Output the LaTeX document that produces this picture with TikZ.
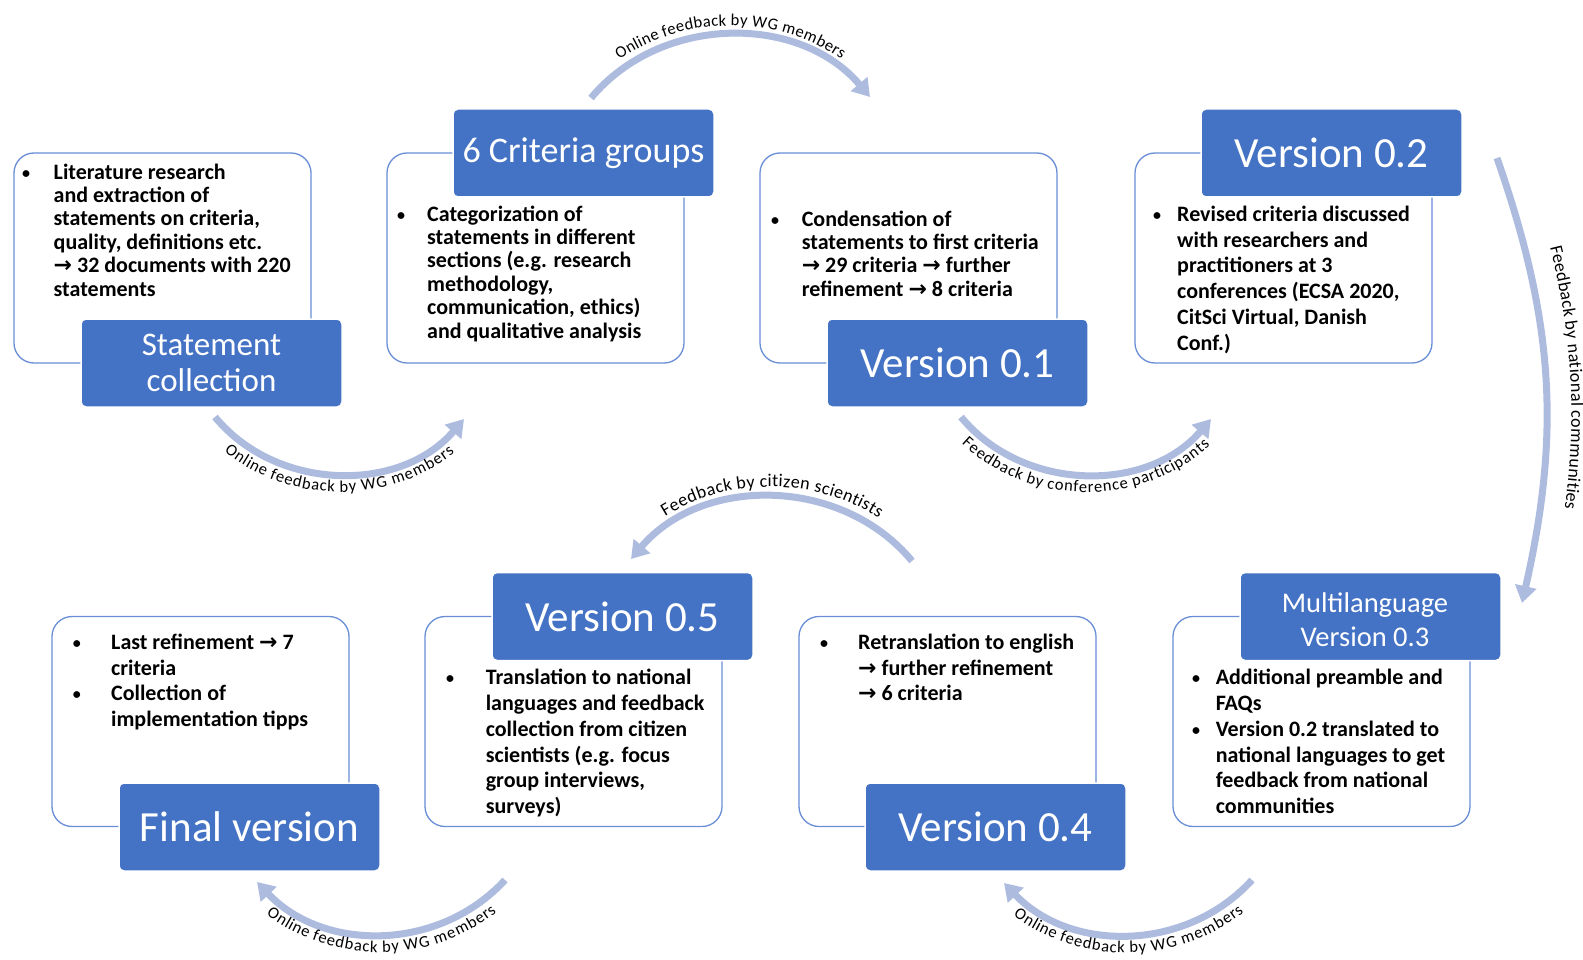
\documentclass[tikz,border=0pt]{standalone}
\usepackage{fontspec}
\setmainfont{Carlito}
\newfontfamily\arrowfont{DejaVu Sans}
\usetikzlibrary{arrows.meta,decorations.text}
\definecolor{wgblue}{RGB}{68,114,196}
\definecolor{wgline}{RGB}{105,142,214}
\definecolor{wgarc}{RGB}{172,187,222}
\newcommand{\rarr}{{\arrowfont\bfseries →}}
\newcommand{\bul}{\raisebox{1pt}{\fontsize{16}{16}\selectfont\textbullet}}
\newcommand{\blist}[2]{\begin{tabular}{@{}p{#1pt}@{}l@{}}#2\end{tabular}}
\newcommand{\lblfont}{\fontsize{16.5}{16.5}\selectfont}
\newcommand{\biglblfont}{\fontsize{18}{18}\selectfont}

\begin{document}
\begin{tikzpicture}[x=1pt,y=-1pt,
  textbox/.style={draw=wgline,line width=1.3pt,fill=white,rounded corners=20pt,minimum width=297pt,minimum height=210pt},
  stage/.style={draw=white,line width=1.5pt,fill=wgblue,rounded corners=5pt,minimum width=261pt,minimum height=88pt,text=white,align=center,inner sep=0pt},
  body/.style={anchor=north west,inner sep=0pt,font=\bfseries\fontsize{22}{23.4}\selectfont},
  bodyw/.style={body,font=\bfseries\fontsize{22}{25.8}\selectfont},
  fb/.style={wgarc,line width=7pt,-{Triangle[length=17pt,width=21pt]}},
  arclbl/.style={decorate,decoration={text along path,text align=center,raise=#1}}
]
  \useasboundingbox (0,0) rectangle (1583,960);

  % Statement collection
  \node[textbox] (t1) at (162.5,258) {};
  \node[stage,font=\fontsize{33}{36}\selectfont] (s1) at (211.5,363) {Statement\\collection};
  \node[body] (b1) at (22,162.5) {\blist{31.5}{\bul & Literature research\\
    & and extraction of\\ & statements on criteria,\\ & quality, definitions etc.\\
    & \rarr{} 32 documents with 220\\ & statements}};

  % 6 Criteria groups
  \node[textbox] (t2) at (535.5,258) {};
  \node[stage,font=\fontsize{36}{40}\selectfont] (s2) at (583.5,153) {6 Criteria groups};
  \node[body] (b2) at (397,204.6) {\blist{30}{\bul & Categorization of\\
    & statements in different\\ & sections (e.g. research\\ & methodology,\\
    & communication, ethics)\\ & and qualitative analysis}};

  % Version 0.1
  \node[textbox] (t3) at (908.5,258) {};
  \node[stage,font=\fontsize{43}{46}\selectfont] (s3) at (957.5,363) {Version 0.1};
  \node[body] (b3) at (771,209.6) {\blist{30.6}{\bul & Condensation of\\
    & statements to first criteria\\ & \rarr{} 29 criteria \rarr{} further\\
    & refinement \rarr{} 8 criteria}};

  % Version 0.2
  \node[textbox] (t4) at (1283.5,258) {};
  \node[stage,font=\fontsize{43}{46}\selectfont] (s4) at (1331.5,153) {Version 0.2};
  \node[bodyw] (b4) at (1153,203) {\blist{24}{\bul & Revised criteria discussed\\
    & with researchers and\\ & practitioners at 3\\ & conferences (ECSA 2020,\\
    & CitSci Virtual, Danish\\ & Conf.)}};

  % Final version
  \node[textbox] (t5) at (200.5,721.5) {};
  \node[stage,font=\fontsize{43}{46}\selectfont] (s5) at (249.5,827) {Final version};
  \node[bodyw] (b5) at (72.7,631) {\blist{38.3}{\bul & Last refinement \rarr{} 7\\
    & criteria\\ \bul & Collection of\\ & implementation tipps}};

  % Version 0.5
  \node[textbox] (t6) at (573.5,721.5) {};
  \node[stage,font=\fontsize{43}{46}\selectfont] (s6) at (622.5,616.5) {Version 0.5};
  \node[bodyw] (b6) at (446,666.5) {\blist{39.6}{\bul & Translation to national\\
    & languages and feedback\\ & collection from citizen\\ & scientists (e.g. focus\\
    & group interviews,\\ & surveys)}};

  % Version 0.4
  \node[textbox] (t7) at (947.5,721.5) {};
  \node[stage,font=\fontsize{43}{46}\selectfont] (s7) at (995.5,827) {Version 0.4};
  \node[bodyw] (b7) at (820,631) {\blist{38}{\bul & Retranslation to english\\
    & \rarr{} further refinement\\ & \rarr{} 6 criteria}};

  % Multilanguage Version 0.3
  \node[textbox] (t8) at (1321.5,721.5) {};
  \node[stage,font=\fontsize{28.5}{34}\selectfont] (s8) at (1370.5,616.5) {};
  \node[text=white,font=\fontsize{28.5}{34}\selectfont,align=center] (s8t) at (1365,620) {Multilanguage\\Version 0.3};
  \node[bodyw] (b8) at (1192,666.5) {\blist{23.6}{\bul & Additional preamble and\\
    & FAQs\\ \bul & Version 0.2 translated to\\ & national languages to get\\
    & feedback from national\\ & communities}};

  % Feedback arcs
  \coordinate (a1s) at (591,98);   \coordinate (a1e) at (870,97);
  \coordinate (a2s) at (215,417);  \coordinate (a2e) at (464,419);
  \coordinate (a3s) at (961,417);  \coordinate (a3e) at (1211,419);
  \coordinate (a4s) at (1497,158); \coordinate (a4e) at (1522,603);
  \coordinate (a5s) at (912,561);  \coordinate (a5e) at (631,559);
  \coordinate (a6s) at (505,880);  \coordinate (a6e) at (257,882);
  \coordinate (a7s) at (1252,880); \coordinate (a7e) at (1004,883);

  \draw[fb] (a1s) to[bend left=50] (a1e);
  \draw[fb] (a2s) to[bend right=50] (a2e);
  \draw[fb] (a3s) to[bend right=50] (a3e);
  \draw[fb] (a4s) to[bend left=16] (a4e);
  \draw[fb] (a5s) to[bend right=50] (a5e);
  \draw[fb] (a6s) to[bend left=47] (a6e);
  \draw[fb] (a7s) to[bend left=47] (a7e);

  % Arc labels
  \path[arclbl=9pt,decoration={text={|\lblfont|Online feedback by WG members}}] (a1s) to[bend left=50] (a1e);
  \path[arclbl=-18pt,decoration={text={|\lblfont|Online feedback by WG members}}] (a2s) to[bend right=50] (a2e);
  \path[arclbl=-18pt,decoration={text={|\lblfont|Feedback by conference participants}}] (a3s) to[bend right=50] (a3e);
  \path[arclbl=25pt,decoration={text={|\biglblfont|Feedback by national communities}}] (a4s) to[bend left=16] (a4e);
  \path[arclbl=10pt,decoration={text={|\biglblfont|Feedback by citizen scientists}}] (a5e) to[bend left=50] (a5s);
  \path[arclbl=-18pt,decoration={text={|\lblfont|Online feedback by WG members}}] (a6e) to[bend right=47] (a6s);
  \path[arclbl=-18pt,decoration={text={|\lblfont|Online feedback by WG members}}] (a7e) to[bend right=47] (a7s);
\end{tikzpicture}
\end{document}
